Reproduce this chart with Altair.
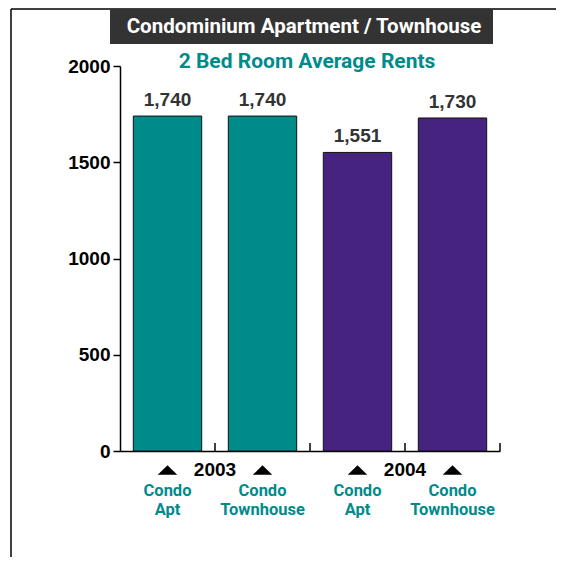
import altair as alt
import pandas as pd

# ---- data ----
categories = ["2003 Condo Apt", "2003 Condo Townhouse", "2004 Condo Apt", "2004 Condo Townhouse"]
values = [1740, 1740, 1551, 1730]
value_labels = ["1,740", "1,740", "1,551", "1,730"]
years = ["2003", "2003", "2004", "2004"]
type_labels = [["Condo", "Apt"], ["Condo", "Townhouse"], ["Condo", "Apt"], ["Condo", "Townhouse"]]
year_labels = ["2003", "2004"]
year_anchor = ["2003 Condo Apt", "2004 Condo Apt"]
bar_colors = ["#008B8B", "#45237F"]
y_ticks = [0, 500, 1000, 1500, 2000]

title_text = "Condominium Apartment / Townhouse"
subtitle_text = "2 Bed Room Average Rents"

df = pd.DataFrame({
    "cat": categories,
    "value": values,
    "label": value_labels,
    "year": years,
    "tlabel": type_labels,
})
ydf = pd.DataFrame({"cat": year_anchor, "year": year_labels})

NARROW = "Roboto"
TEAL = "#008B8B"

xscale = alt.Scale(domain=categories, paddingInner=0, paddingOuter=0)
yscale = alt.Scale(domain=[0, 2000], nice=False)

base = alt.Chart(df)

bars = base.mark_bar(width=alt.RelativeBandSize(0.72), stroke="#111111", strokeWidth=1).encode(
    x=alt.X("cat:N", scale=xscale, sort=categories,
            axis=alt.Axis(title=None, labels=False, ticks=False, domainColor="black",
                          domainWidth=1.5)),
    y=alt.Y("value:Q", scale=yscale,
            axis=alt.Axis(title=None, values=y_ticks, format="d", grid=False, tickSize=7,
                          tickColor="black", tickWidth=1.5, domainColor="black",
                          domainWidth=1.5, labelFont="Liberation Sans", labelFontWeight="bold",
                          labelFontSize=19, labelColor="black", labelPadding=3)),
    color=alt.Color("year:N", scale=alt.Scale(domain=["2003", "2004"], range=bar_colors), legend=None),
)

vlabels = base.mark_text(baseline="bottom", dy=-6, font="Liberation Sans", fontWeight="bold",
                         fontSize=19, color="#333333").encode(
    x=alt.X("cat:N", scale=xscale, sort=categories),
    y=alt.Y("value:Q", scale=yscale),
    text="label:N",
)

# upward ticks at band boundaries on x axis
xticks = base.mark_rule(color="black", strokeWidth=1.5).encode(
    x=alt.X("cat:N", scale=xscale, sort=categories, bandPosition=1),
    y=alt.value(385), y2=alt.value(377),
)

triangles = base.mark_point(shape="M-1,0.5L1,0.5L0,-0.5Z", size=380, filled=True,
                            color="black", opacity=1).encode(
    x=alt.X("cat:N", scale=xscale, sort=categories),
    y=alt.value(404),
)

tlabels = base.mark_text(baseline="top", font=NARROW, fontWeight="bold", fontSize=16.5,
                         color=TEAL, lineHeight=19).encode(
    x=alt.X("cat:N", scale=xscale, sort=categories),
    y=alt.value(417),
    text="tlabel",
)

yearlabels = alt.Chart(ydf).mark_text(baseline="middle", font="Liberation Sans", fontWeight="bold",
                                       fontSize=19, color="black").encode(
    x=alt.X("cat:N", scale=xscale, sort=categories, bandPosition=1),
    y=alt.value(404),
    text="year:N",
)

title_df = pd.DataFrame({"t": [title_text]})
title_box = alt.Chart(title_df).mark_rect(color="#333333").encode(
    x=alt.value(-10), x2=alt.value(373), y=alt.value(-57), y2=alt.value(-22),
)
title = alt.Chart(title_df).mark_text(font=NARROW, fontWeight="bold", fontSize=20.5, color="white",
                                      baseline="middle").encode(
    x=alt.value(184), y=alt.value(-39), text="t:N",
)
sub_df = pd.DataFrame({"t": [subtitle_text]})
subtitle = alt.Chart(sub_df).mark_text(font=NARROW, fontWeight="bold", fontSize=21, color=TEAL,
                                       baseline="middle").encode(
    x=alt.value(187), y=alt.value(-4), text="t:N",
)

frame_left = alt.Chart(title_df).mark_rule(color="black", strokeWidth=1.5).encode(
    x=alt.value(-109), y=alt.value(-57), y2=alt.value(600),
)
frame_top = alt.Chart(title_df).mark_rule(color="black", strokeWidth=1.5).encode(
    x=alt.value(-109), x2=alt.value(600), y=alt.value(-57),
)

chart = alt.layer(
    frame_left, frame_top, title_box, title, subtitle,
    bars, vlabels, xticks, triangles, tlabels, yearlabels,
).properties(
    width=380, height=385,
    autosize=alt.AutoSizeParams(type="none"),
    padding={"left": 112, "top": 58, "right": 56, "bottom": 106},
).configure_view(stroke=None)

chart.save("out.html", embed_options={"renderer": "svg", "actions": False})
